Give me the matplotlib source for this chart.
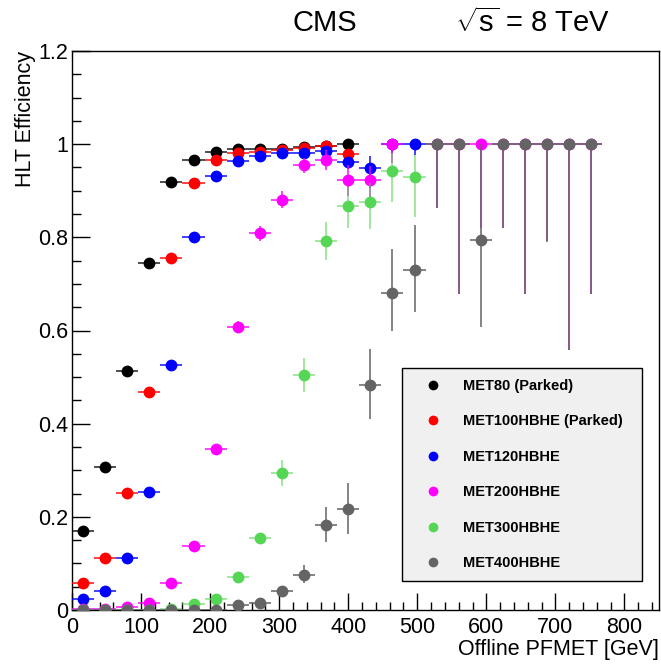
import matplotlib
matplotlib.use("Agg")
import matplotlib.pyplot as plt
from matplotlib.lines import Line2D
from matplotlib.colors import to_rgba
from matplotlib.ticker import MultipleLocator
import numpy as np

plt.rcParams['font.family'] = ['Liberation Sans', 'DejaVu Sans']
plt.rcParams['mathtext.fontset'] = 'custom'
plt.rcParams['mathtext.rm'] = 'Liberation Sans'
plt.rcParams['mathtext.it'] = 'Liberation Sans:italic'

# ---------------- data ----------------
bin_half_width = 16

met80_x = [16, 48, 80, 112, 144, 176, 208, 240, 272, 304, 336, 368, 400]
met80_y = [0.170, 0.306, 0.512, 0.745, 0.918, 0.966, 0.984, 0.990, 0.990, 0.990, 0.994, 0.997, 1.000]
met80_elo = [0.005, 0.006, 0.006, 0.006, 0.004, 0.003, 0.003, 0.003, 0.003, 0.004, 0.005, 0.006, 0.008]
met80_ehi = [0.005, 0.006, 0.006, 0.006, 0.004, 0.003, 0.003, 0.003, 0.003, 0.004, 0.004, 0.003, 0.0]

met100_x = [16, 48, 80, 112, 144, 176, 208, 240, 272, 304, 336, 368, 400]
met100_y = [0.057, 0.112, 0.252, 0.467, 0.756, 0.916, 0.966, 0.982, 0.984, 0.987, 0.991, 0.997, 0.979]
met100_elo = [0.003, 0.004, 0.005, 0.006, 0.006, 0.004, 0.003, 0.003, 0.003, 0.004, 0.005, 0.006, 0.012]
met100_ehi = [0.003, 0.004, 0.005, 0.006, 0.006, 0.004, 0.003, 0.003, 0.003, 0.004, 0.004, 0.003, 0.010]

met120_x = [16, 48, 80, 112, 144, 176, 208, 240, 272, 304, 336, 368, 400, 432, 464, 496]
met120_y = [0.023, 0.041, 0.112, 0.253, 0.527, 0.800, 0.931, 0.964, 0.974, 0.982, 0.981, 0.986, 0.961, 0.949, 1.000, 1.000]
met120_elo = [0.002, 0.003, 0.004, 0.005, 0.006, 0.006, 0.005, 0.004, 0.004, 0.005, 0.006, 0.008, 0.014, 0.043, 0.020, 0.024]
met120_ehi = [0.002, 0.003, 0.004, 0.005, 0.006, 0.006, 0.005, 0.004, 0.004, 0.005, 0.006, 0.007, 0.012, 0.026, 0.0, 0.0]

met200_x = [16, 48, 80, 112, 144, 176, 208, 240, 272, 304, 336, 368, 400, 432, 464,
            528, 560, 592, 624, 656, 688, 720, 752]
met200_y = [0.002, 0.002, 0.007, 0.016, 0.057, 0.138, 0.346, 0.607, 0.809, 0.881, 0.955, 0.967, 0.924, 0.924, 1.000,
            1.000, 1.000, 1.000, 1.000, 1.000, 1.000, 1.000, 1.000]
met200_elo = [0.001, 0.001, 0.002, 0.003, 0.004, 0.006, 0.009, 0.013, 0.016, 0.019, 0.017, 0.022, 0.035, 0.040, 0.040,
              0.138, 0.322, 0.179, 0.179, 0.322, 0.208, 0.441, 0.322]
met200_ehi = [0.001, 0.001, 0.002, 0.003, 0.004, 0.006, 0.009, 0.013, 0.016, 0.019, 0.015, 0.020, 0.032, 0.030, 0.0,
              0.0, 0.0, 0.0, 0.0, 0.0, 0.0, 0.0, 0.0]

met300_x = [16, 48, 80, 112, 144, 176, 208, 240, 272, 304, 336, 368, 400, 432, 464, 496]
met300_y = [0.0, 0.0, 0.0, 0.0, 0.003, 0.013, 0.024, 0.071, 0.154, 0.294, 0.504, 0.793, 0.868, 0.876, 0.943, 0.929]
met300_elo = [0.0, 0.0, 0.0, 0.0, 0.001, 0.003, 0.004, 0.007, 0.011, 0.027, 0.035, 0.041, 0.048, 0.058, 0.067, 0.086]
met300_ehi = [0.0, 0.0, 0.0, 0.0, 0.001, 0.003, 0.004, 0.007, 0.011, 0.027, 0.037, 0.040, 0.039, 0.040, 0.037, 0.047]

met400_x = [16, 48, 80, 112, 144, 176, 208, 240, 272, 304, 336, 368, 400, 432, 464, 496,
            528, 560, 592, 624, 656, 688, 720, 752]
met400_y = [0.0, 0.0, 0.0, 0.0, 0.0, 0.0, 0.0, 0.011, 0.014, 0.041, 0.076, 0.182, 0.216, 0.484, 0.681, 0.729,
            1.000, 1.000, 0.795, 1.000, 1.000, 1.000, 1.000, 1.000]
met400_elo = [0.0, 0.0, 0.0, 0.0, 0.0, 0.0, 0.0, 0.005, 0.006, 0.012, 0.019, 0.037, 0.052, 0.075, 0.082, 0.090,
              0.138, 0.322, 0.188, 0.179, 0.322, 0.210, 0.441, 0.322]
met400_ehi = [0.0, 0.0, 0.0, 0.0, 0.0, 0.0, 0.0, 0.005, 0.006, 0.011, 0.020, 0.039, 0.057, 0.077, 0.095, 0.098,
              0.0, 0.0, 0.205, 0.0, 0.0, 0.0, 0.0, 0.0]

series_labels = ["MET80 (Parked)", "MET100HBHE (Parked)", "MET120HBHE",
                 "MET200HBHE", "MET300HBHE", "MET400HBHE"]
series_colors = ["#000000", "#ff0000", "#0000ff", "#ff00ff", "#55d655", "#646464"]
series_err_alpha = [0.75, 0.8, 0.8, 0.8, 0.6, 0.85]

x_ticklabels = ["0", "100", "200", "300", "400", "500", "600", "700", "800"]
y_ticklabels = ["0", "0.2", "0.4", "0.6", "0.8", "1", "1.2"]

# ---------------- figure ----------------
W, H = 661, 666
fig = plt.figure(figsize=(W / 100, H / 100), dpi=100)
ax = fig.add_axes([72 / W, 1 - 610 / H, (659 - 72) / W, (610 - 51) / H])

series = [
    (met80_x, met80_y, met80_elo, met80_ehi),
    (met100_x, met100_y, met100_elo, met100_ehi),
    (met120_x, met120_y, met120_elo, met120_ehi),
    (met200_x, met200_y, met200_elo, met200_ehi),
    (met300_x, met300_y, met300_elo, met300_ehi),
    (met400_x, met400_y, met400_elo, met400_ehi),
]

for i, (xs, ys, elo, ehi) in enumerate(series):
    c = series_colors[i]
    ec = to_rgba(c, series_err_alpha[i])
    ax.errorbar(xs, ys, xerr=bin_half_width, yerr=[elo, ehi], fmt='o',
                color=c, ecolor=ec, elinewidth=1.3, capsize=4.5, capthick=1.3,
                markersize=8.5, markeredgewidth=0, zorder=3 + i)

ax.set_xlim(0, 850)
ax.set_ylim(0, 1.2)

ax.set_xticks([0, 100, 200, 300, 400, 500, 600, 700, 800])
ax.set_xticklabels(x_ticklabels)
ax.set_yticks([0, 0.2, 0.4, 0.6, 0.8, 1.0, 1.2])
ax.set_yticklabels(y_ticklabels)
ax.xaxis.set_minor_locator(MultipleLocator(20))
ax.yaxis.set_minor_locator(MultipleLocator(0.05))
ax.tick_params(axis='both', which='both', direction='in', top=False, right=False,
               labelsize=15.5, width=1.0, color='black')
ax.tick_params(axis='x', which='major', length=12.5, pad=5)
ax.tick_params(axis='x', which='minor', length=6)
ax.tick_params(axis='y', which='major', length=13, pad=3)
ax.tick_params(axis='y', which='minor', length=6.5)
for sp in ax.spines.values():
    sp.set_linewidth(1.0)

# legend
handles = [Line2D([], [], marker='o', ls='none', color=c, markersize=7, markeredgewidth=0)
           for c in series_colors]
leg = ax.legend(handles, series_labels, loc='upper left',
                bbox_to_anchor=((402 - 72) / 587, (610 - 577) / 559, (642 - 402) / 587, (577 - 368) / 559),
                mode='expand', borderaxespad=0, borderpad=0.75, labelspacing=1.47,
                handlelength=2.7, handletextpad=0.75, fancybox=False, framealpha=1,
                edgecolor='black', facecolor='#f0f0f0',
                prop={'weight': 'bold', 'size': 10.5, 'family': 'Liberation Sans'})
leg.get_frame().set_linewidth(1.0)
leg.set_zorder(20)

# titles and axis labels
fig.text(325 / W, 1 - 23 / H, "CMS", fontsize=21, ha='center', va='center')
fig.text(532 / W, 1 - 23 / H, r"$\sqrt{\mathrm{s}}$ = 8 TeV", fontsize=21, ha='center', va='center')
fig.text(25 / W, 1 - 51 / H, "HLT Efficiency", fontsize=15.5, rotation=90, ha='center', va='top')
fig.text(659 / W, 1 - 650 / H, "Offline PFMET [GeV]", fontsize=15.5, ha='right', va='center')

fig.savefig("out.png", dpi=100)
